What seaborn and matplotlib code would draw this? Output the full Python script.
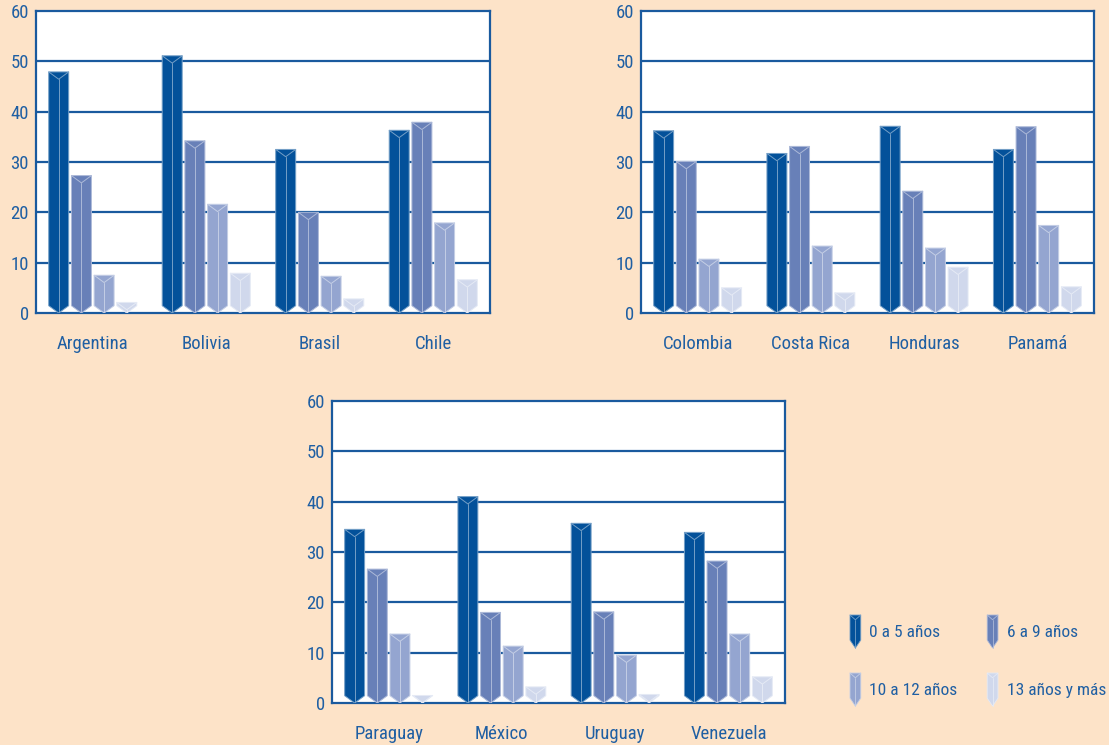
import numpy as np
import pandas as pd
import matplotlib
matplotlib.use("Agg")
import matplotlib.pyplot as plt
from matplotlib.patches import Polygon, Patch
from matplotlib.lines import Line2D
from matplotlib.legend_handler import HandlerPatch
from matplotlib.colors import to_rgb
import seaborn as sns

# ---- data -------------------------------------------------------------
grupos = ["0 a 5 años", "6 a 9 años", "10 a 12 años", "13 años y más"]

paises_1 = ["Argentina", "Bolivia", "Brasil", "Chile"]
edad_0_5_1 = [47.9, 51.1, 32.5, 36.3]
edad_6_9_1 = [27.3, 34.2, 20.0, 37.9]
edad_10_12_1 = [7.5, 21.6, 7.3, 17.9]
edad_13_1 = [2.1, 7.9, 2.8, 6.6]

paises_2 = ["Colombia", "Costa Rica", "Honduras", "Panamá"]
edad_0_5_2 = [36.2, 31.7, 37.1, 32.5]
edad_6_9_2 = [30.1, 33.1, 24.2, 37.0]
edad_10_12_2 = [10.7, 13.3, 12.9, 17.4]
edad_13_2 = [5.0, 4.0, 9.1, 5.2]

paises_3 = ["Paraguay", "México", "Uruguay", "Venezuela"]
edad_0_5_3 = [34.5, 41.0, 35.7, 33.9]
edad_6_9_3 = [26.6, 18.0, 18.1, 28.2]
edad_10_12_3 = [13.7, 11.3, 9.5, 13.7]
edad_13_3 = [1.5, 3.2, 1.7, 5.2]

y_ticks = [0, 10, 20, 30, 40, 50, 60]

# ---- style ------------------------------------------------------------
colores = ["#03519A", "#6880B8", "#94A5D0", "#D0D8EC"]
fondo = "#FDE3C8"
azul = "#1A5A9E"
texto = "#1F5FA3"

sns.set_theme(style="white")
plt.rcParams["font.family"] = ["Roboto Condensed", "DejaVu Sans"]


def tabla(paises, a, b, c, d):
    filas = []
    for serie, vals in zip(grupos, [a, b, c, d]):
        for p, v in zip(paises, vals):
            filas.append({"país": p, "grupo": serie, "valor": v})
    return pd.DataFrame(filas)


def aclarar(color, f=0.45):
    r, g, b = to_rgb(color)
    return (r + (1 - r) * f, g + (1 - g) * f, b + (1 - b) * f)


def prisma(ax, x, w, h, fc, punta):
    """Bar drawn as a prism with a pointed bottom."""
    c = min(punta, h)
    pts = [(x, h), (x + w, h), (x + w, c), (x + w / 2, 0), (x, c)]
    luz = aclarar(fc)
    ax.add_patch(Polygon(pts, closed=True, facecolor=fc, edgecolor=luz,
                         lw=0.7, zorder=3))
    if h > punta * 0.6:
        v = min(punta, h)
        ax.add_line(Line2D([x, x + w / 2, x + w], [h, h - v, h],
                           color=luz, lw=0.7, zorder=4))
        ax.add_line(Line2D([x + w / 2, x + w / 2], [h - v, 0],
                           color=luz, lw=0.7, zorder=4))


fig = plt.figure(figsize=(11.09, 7.45), dpi=100)
fig.patch.set_facecolor(fondo)

posiciones = [
    [36 / 1109, 1 - 313 / 745, 454 / 1109, 302 / 745],
    [641 / 1109, 1 - 313 / 745, 453 / 1109, 302 / 745],
    [332 / 1109, 1 - 703 / 745, 453 / 1109, 302 / 745],
]
paneles = [
    tabla(paises_1, edad_0_5_1, edad_6_9_1, edad_10_12_1, edad_13_1),
    tabla(paises_2, edad_0_5_2, edad_6_9_2, edad_10_12_2, edad_13_2),
    tabla(paises_3, edad_0_5_3, edad_6_9_3, edad_10_12_3, edad_13_3),
]

for pos, df in zip(posiciones, paneles):
    ax = fig.add_axes(pos)
    ax.set_facecolor("white")
    sns.barplot(data=df, x="país", y="valor", hue="grupo", hue_order=grupos,
                palette=colores, saturation=1, width=0.8, gap=0.12,
                legend=False, ax=ax)
    for p in list(ax.patches):
        x, w, h = p.get_x(), p.get_width(), p.get_height()
        fc = p.get_facecolor()
        p.remove()
        prisma(ax, x, w, h, fc, 1.45)
    ax.set_ylim(0, 60)
    ax.set_xlim(-0.5, 3.5)
    ax.set_yticks(y_ticks)
    ax.set_xlabel("")
    ax.set_ylabel("")
    for yv in y_ticks[1:-1]:
        ax.axhline(yv, color=azul, lw=1.6, zorder=2)
    for s in ax.spines.values():
        s.set_visible(True)
        s.set_color(azul)
        s.set_linewidth(1.6)
    ax.tick_params(axis="y", length=0, pad=5, labelsize=13.5, labelcolor=texto)
    ax.tick_params(axis="x", length=0, pad=16, labelsize=13.5, labelcolor=texto)


class HandlerPrisma(HandlerPatch):
    def create_artists(self, legend, orig_handle, xdescent, ydescent,
                       width, height, fontsize, trans):
        fc = orig_handle.get_facecolor()
        x0, w = -xdescent, width
        y0, h = -ydescent, height
        d = h * 0.24
        luz = aclarar(fc)
        pts = [(x0, y0 + h), (x0 + w, y0 + h), (x0 + w, y0 + d),
               (x0 + w / 2, y0), (x0, y0 + d)]
        poly = Polygon(pts, closed=True, facecolor=fc, edgecolor=luz,
                       lw=0.6, transform=trans)
        l1 = Line2D([x0, x0 + w / 2, x0 + w], [y0 + h, y0 + h - d * 0.6, y0 + h],
                    color=luz, lw=0.6, transform=trans)
        l2 = Line2D([x0 + w / 2, x0 + w / 2], [y0 + h - d * 0.6, y0],
                    color=luz, lw=0.6, transform=trans)
        return [poly, l1, l2]


handles = [Patch(facecolor=c) for c in colores]
orden = [0, 2, 1, 3]
fig.legend([handles[i] for i in orden], [grupos[i] for i in orden],
           loc="upper left", bbox_to_anchor=(850 / 1109, 1 - 615 / 745),
           ncol=2, frameon=False, fontsize=12.5, labelcolor=texto,
           handler_map={Patch: HandlerPrisma()},
           handlelength=0.62, handleheight=2.55, handletextpad=0.5,
           columnspacing=1.7, labelspacing=1.44, borderpad=0,
           borderaxespad=0)

fig.savefig("out.png", dpi=100, facecolor=fondo)
